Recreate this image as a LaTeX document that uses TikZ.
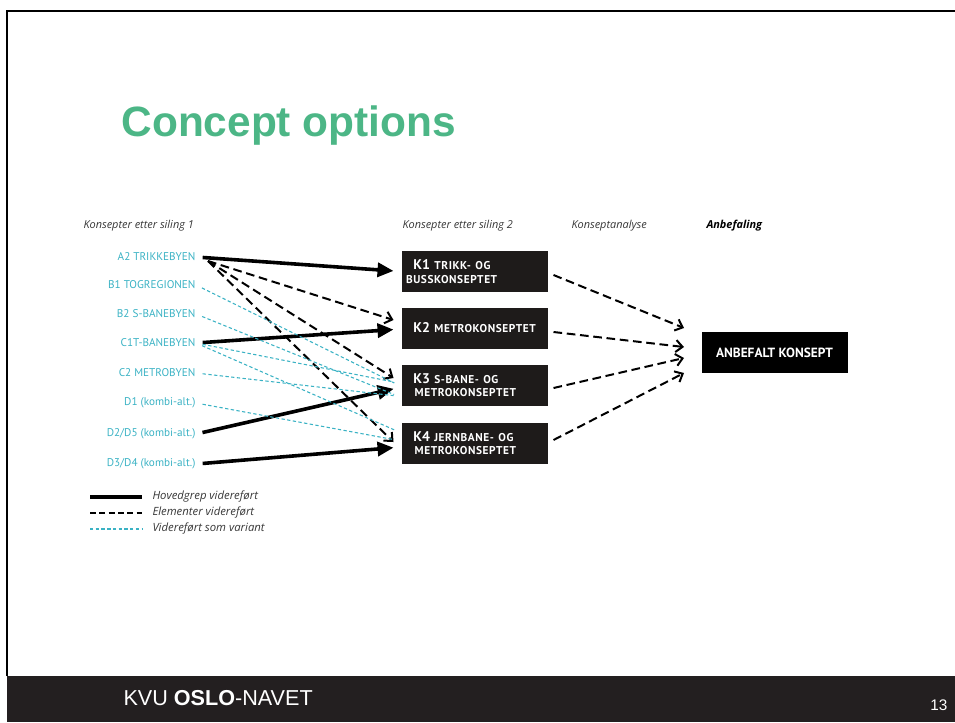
\documentclass[tikz,border=0pt]{standalone}
\usepackage{fontspec}
\setmainfont{PT Sans}
\newfontfamily\arialfont{Liberation Sans}
\newfontfamily\opensans{Open Sans}
\usetikzlibrary{arrows.meta,calc,positioning}

\definecolor{titlegreen}{RGB}{76,182,134}
\definecolor{labelcyan}{RGB}{58,178,196}
\definecolor{boxblack}{RGB}{30,27,26}
\definecolor{footerblack}{RGB}{35,31,32}
\definecolor{headgray}{RGB}{55,55,55}

\newcommand{\kbig}[1]{{\fontsize{10.5}{11}\selectfont #1}}
\newcommand{\ksmall}[1]{{\addfontfeature{LetterSpace=5}\fontsize{8.5}{9}\selectfont #1}}

\tikzset{every picture/.style={line width=0.75pt},
  concept/.style={anchor=east, inner sep=0pt, text=labelcyan, font=\fontsize{8.4}{9}\selectfont},
  colhead/.style={anchor=west, inner sep=0pt, text=headgray, font=\opensans\fontsize{8.2}{9}\selectfont\itshape},
  legtext/.style={anchor=west, inner sep=0pt, text=headgray, font=\opensans\fontsize{8.5}{9}\selectfont\itshape},
  kbox/.style={fill=boxblack, text=white, font=\bfseries, minimum width=109.5pt, minimum height=30.75pt,
    inner xsep=3pt, inner ysep=0pt, text width=103.5pt, align=left},
  main/.style={line width=2.7pt, -{Triangle[length=12pt,width=10.5pt]}, shorten <=5pt, shorten >=6pt},
  elem/.style={line width=1.5pt, dash pattern=on 6.5pt off 3.5pt, -{Straight Barb[length=5pt,width=9pt,line width=1.5pt]}},
  variant/.style={labelcyan, line width=0.8pt, dash pattern=on 2.5pt off 1.8pt, shorten <=5pt, shorten >=6pt}
}

\begin{document}
\begin{tikzpicture}[x=0.75pt,y=0.75pt,yscale=-1,xscale=1]
	\useasboundingbox (0,0) rectangle (955,722);

	% Slide frame and footer
	\draw [line width=2pt] (7,676) -- (7,11) -- (955,11) ;
	\fill [footerblack] (7,676) rectangle (955,722) ;

	% Title
	\node [anchor=base west, inner sep=0pt, text=titlegreen, font=\arialfont\bfseries\fontsize{31.8}{34}\selectfont] (title) at (121,136) {Concept options};

	% Column headings
	\node [colhead] (head1) at (83,226) {Konsepter etter siling 1};
	\node [colhead] (head2) at (402,226) {Konsepter etter siling 2};
	\node [colhead] (head3) at (571,226) {Konseptanalyse};
	\node [colhead, font=\opensans\fontsize{8.2}{9}\selectfont\bfseries\itshape, text=black] (head4) at (706,226) {Anbefaling};

	% Concepts after first screening
	\node [concept] (a2) at (196,257) {A2 TRIKKEBYEN};
	\node [concept] (b1) at (196,285) {B1 TOGREGIONEN};
	\node [concept] (b2) at (196,314) {B2 S-BANEBYEN};
	\node [concept] (c1t) at (196,343) {C1T-BANEBYEN};
	\node [concept] (c2) at (196,373) {C2 METROBYEN};
	\node [concept] (d1) at (196,403) {D1 (kombi-alt.)};
	\node [concept] (d25) at (196,434) {D2/D5 (kombi-alt.)};
	\node [concept] (d34) at (196,464) {D3/D4 (kombi-alt.)};

	% Concepts after second screening
	\node [kbox] (k1) at (475,271.5) {\hspace*{5.5pt}\kbig{K1} \ksmall{TRIKK- OG}\\[-2pt]\ksmall{BUSSKONSEPTET}};
	\node [kbox] (k2) at (475,328) {\hspace*{5.5pt}\kbig{K2} \ksmall{METROKONSEPTET}};
	\node [kbox] (k3) at (475,385.5) {\hspace*{5.5pt}\kbig{K3} \ksmall{S-BANE- OG}\\[-2pt]\hspace*{6.5pt}\ksmall{METROKONSEPTET}};
	\node [kbox] (k4) at (475,443) {\hspace*{5.5pt}\kbig{K4} \ksmall{JERNBANE- OG}\\[-2pt]\hspace*{6.5pt}\ksmall{METROKONSEPTET}};

	% Recommendation
	\node [fill=black, text=white, font=\bfseries\fontsize{10}{11}\selectfont, minimum width=109.5pt, minimum height=31pt, inner sep=0pt] (anb) at (774.5,352.5) {ANBEFALT KONSEPT};

	% Main approach carried on
	\draw [main] (a2.east) -- (k1.west) ;
	\draw [main] (c1t.east) -- ($(k2.west)+(0,1)$) ;
	\draw [main] (d25.east) -- ($(k3.west)+(0,1.5)$) ;
	\draw [main] (d34.east) -- ($(k4.west)+(0,4)$) ;

	% Elements carried on
	\draw [elem] ($(a2.east)+(12,4)$) -- ($(k2.west)+(-8,-8)$) ;
	\draw [elem] ($(a2.east)+(12,4)$) -- ($(k3.west)+(-8,-7.5)$) ;
	\draw [elem] ($(a2.east)+(12,4)$) -- ($(k4.west)+(-8,-1)$) ;

	% Carried on as variant
	\draw [variant] (b1.east) -- ($(k3.west)+(0,1)$) ;
	\draw [variant] (b2.east) -- ($(k3.west)+(0,12)$) ;
	\draw [variant] (c1t.east) -- ($(k3.west)+(0,-2)$) ;
	\draw [variant] (c1t.east) -- ($(k4.west)+(0,-10)$) ;
	\draw [variant] (c2.east) -- ($(k3.west)+(0,11)$) ;
	\draw [variant] (d1.east) -- ($(k4.west)+(0,-2)$) ;

	% Concept analysis
	\draw [elem] ($(k1.east)+(5,3.5)$) -- ($(anb.west)+(-17,-24.5)$) ;
	\draw [elem] ($(k2.east)+(5,4)$) -- ($(anb.west)+(-17,-5.5)$) ;
	\draw [elem] ($(k3.east)+(5,2.5)$) -- ($(anb.west)+(-17,5.5)$) ;
	\draw [elem] ($(k4.east)+(5,-3)$) -- ($(anb.west)+(-17,20.5)$) ;

	% Legend
	\coordinate (lega) at (90,497) ;
	\coordinate (legb) at (142,497) ;
	\coordinate (legc) at (90,513) ;
	\coordinate (legd) at (142,513) ;
	\coordinate (lege) at (90,529) ;
	\coordinate (legf) at (142,529) ;
	\draw [line width=3pt] (lega) -- (legb) ;
	\draw [line width=1.3pt, dash pattern=on 4.5pt off 2.5pt] (legc) -- (legd) ;
	\draw [labelcyan, line width=0.8pt, dash pattern=on 2.5pt off 1.8pt] (lege) -- (legf) ;
	\node [legtext, right=10 of legb] (leg1) {Hovedgrep videreført};
	\node [legtext, right=10 of legd] (leg2) {Elementer videreført};
	\node [legtext, right=10 of legf] (leg3) {Videreført som variant};

	% Footer text
	\node [anchor=base west, inner sep=0pt, text=white, font=\arialfont\fontsize{16.2}{18}\selectfont] (brand) at (123,705) {KVU \textbf{OSLO}-NAVET};
	\node [anchor=base east, inner sep=0pt, text=white, font=\arialfont\fontsize{11.5}{12}\selectfont] (pageno) at (948,710) {13};
\end{tikzpicture}
\end{document}
